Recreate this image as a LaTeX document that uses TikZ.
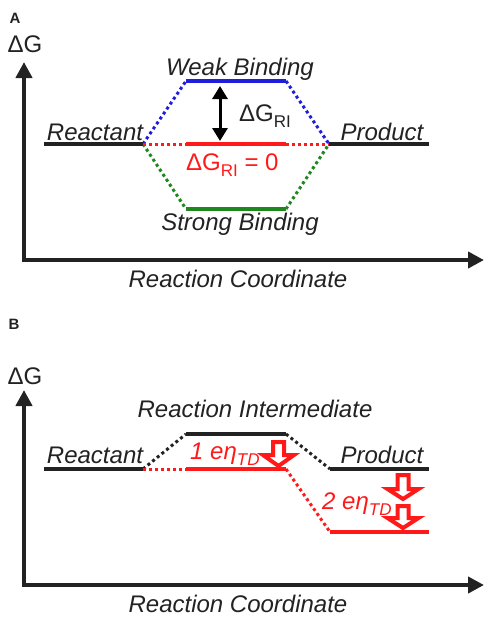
\documentclass[tikz,border=0pt]{standalone}
\usepackage{fontspec}
\setmainfont{Liberation Sans}
\usetikzlibrary{arrows.meta}
\definecolor{myblue}{RGB}{30,30,220}
\definecolor{myred}{RGB}{255,25,25}
\definecolor{mygreen}{RGB}{30,135,30}
\definecolor{ink}{RGB}{34,34,34}
\newcommand{\subRI}[1]{\raisebox{-0.28em}{\fontsize{17}{17}\selectfont #1}}
\begin{document}
\begin{tikzpicture}[x=1pt,y=-1pt,
  lbl/.style={font=\fontsize{24}{24}\selectfont\itshape, text=ink, inner sep=0pt},
  upr/.style={font=\fontsize{24}{24}\selectfont, text=ink, inner sep=0pt},
  axis/.style={line width=4.7pt, draw=ink, line join=miter,
    {Triangle[length=16pt,width=16pt]}-{Triangle[length=16pt,width=16pt]}},
  level/.style={line width=4.5pt},
  dotl/.style={line width=3pt, dash pattern=on 3pt off 3pt},
  blockarrow/.style={draw=myred, fill=white, line width=4pt, line join=miter},
]
\useasboundingbox (0,0) rectangle (485,619);

% ---------------- Panel A ----------------
\node[font=\fontsize{15}{15}\selectfont\bfseries, text=ink, inner sep=0pt] (labA) at (15,18) {A};
\node[upr, anchor=base] (dGa) at (25,52) {ΔG};
\coordinate (ya) at (24,62);
\coordinate (oa) at (24,260);
\coordinate (xa) at (484,260);
\draw[axis] (ya) -- (oa) -- (xa);

\coordinate (ra1) at (44,144);  \coordinate (ra2) at (143,144);
\coordinate (pa1) at (329,144); \coordinate (pa2) at (429,144);
\coordinate (wa1) at (186,81);  \coordinate (wa2) at (286,81);
\coordinate (za1) at (186,144); \coordinate (za2) at (286,144);
\coordinate (sa1) at (186,209); \coordinate (sa2) at (286,209);

\draw[dotl, myblue] (ra2) -- (wa1);
\draw[dotl, myblue] (wa2) -- (pa1);
\draw[dotl, mygreen] (ra2) -- (sa1);
\draw[dotl, mygreen] (sa2) -- (pa1);
\draw[dotl, myred] (ra2) -- (za1);
\draw[dotl, myred] (za2) -- (pa1);

\draw[level, ink] (ra1) -- (ra2);
\draw[level, ink] (pa1) -- (pa2);
\draw[level, myblue] (wa1) -- (wa2);
\draw[level, myred] (za1) -- (za2);
\draw[level, mygreen] (sa1) -- (sa2);

\coordinate (da1) at (220,86);
\coordinate (da2) at (220,141);
\draw[line width=3pt, draw=black, {Triangle[length=13pt,width=15pt]}-{Triangle[length=13pt,width=15pt]}] (da1) -- (da2);

\node[lbl, anchor=base] (weak) at (240,75) {Weak Binding};
\node[lbl, anchor=base] (strong) at (240,230) {Strong Binding};
\node[lbl, anchor=base] (reacA) at (95,140) {Reactant};
\node[lbl, anchor=base] (prodA) at (382,140) {Product};
\node[upr, anchor=base west] (dGRI) at (239,121) {ΔG\subRI{RI}};
\node[upr, anchor=base west, text=myred] (dGRI0) at (186,170) {ΔG\subRI{RI} = 0};
\node[lbl, anchor=base] (rcA) at (238,287) {Reaction Coordinate};

% ---------------- Panel B ----------------
\node[font=\fontsize{15}{15}\selectfont\bfseries, text=ink, inner sep=0pt] (labB) at (14,324) {B};
\node[upr, anchor=base] (dGb) at (25,384) {ΔG};
\coordinate (yb) at (24,390);
\coordinate (ob) at (24,585);
\coordinate (xb) at (484,585);
\draw[axis] (yb) -- (ob) -- (xb);

\coordinate (rb1) at (44,469);  \coordinate (rb2) at (143,469);
\coordinate (ib1) at (186,434); \coordinate (ib2) at (286,434);
\coordinate (eb1) at (186,469); \coordinate (eb2) at (286,469);
\coordinate (pb1) at (330,469); \coordinate (pb2) at (429,469);
\coordinate (qb1) at (330,532); \coordinate (qb2) at (429,532);

\draw[dotl, ink] (rb2) -- (ib1);
\draw[dotl, ink] (ib2) -- (pb1);
\draw[dotl, myred] (rb2) -- (eb1);
\draw[dotl, myred] (eb2) -- (qb1);

\draw[level, ink] (rb1) -- (rb2);
\draw[level, ink] (ib1) -- (ib2);
\draw[level, myred] (eb1) -- (eb2);
\draw[level, ink] (pb1) -- (pb2);
\draw[level, myred] (qb1) -- (qb2);

% block arrows
\draw[blockarrow] (273,442) -- (284,442) -- (284,455) -- (294,455) -- (278.5,466)
  -- (263,455) -- (273,455) -- cycle;
\draw[blockarrow] (397.5,475) -- (408.5,475) -- (408.5,489) -- (418.5,489) -- (403,499)
  -- (387.5,489) -- (397.5,489) -- cycle;
\draw[blockarrow] (397.5,506) -- (408.5,506) -- (408.5,518) -- (418.5,518) -- (403,528)
  -- (387.5,518) -- (397.5,518) -- cycle;

\node[lbl, anchor=base] (inter) at (255,417) {Reaction Intermediate};
\node[lbl, anchor=base] (reacB) at (95,463) {Reactant};
\node[lbl, anchor=base] (prodB) at (382,463) {Product};
\node[lbl, anchor=base west, text=myred] (e1) at (190,459) {1 eη\raisebox{-0.25em}{\fontsize{17}{17}\selectfont TD}};
\node[lbl, anchor=base west, text=myred] (e2) at (322,509) {2 eη\raisebox{-0.25em}{\fontsize{17}{17}\selectfont TD}};
\node[lbl, anchor=base] (rcB) at (238,612) {Reaction Coordinate};
\end{tikzpicture}
\end{document}
